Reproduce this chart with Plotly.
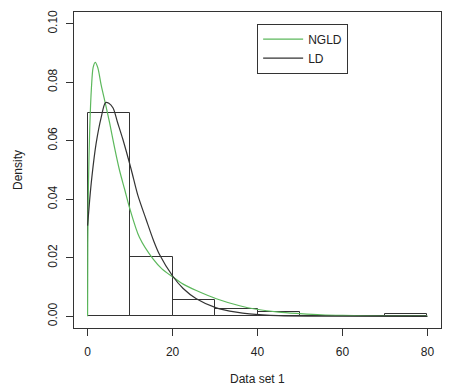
import plotly.graph_objects as go

# Histogram (density scale), bins of width 10
bin_left = [0, 10, 20, 30, 40, 50, 60, 70]
bin_width = 10
bin_density = [0.0695, 0.0203, 0.0055, 0.0024, 0.0014, 0.0, 0.0, 0.0009]

# NGLD fitted density
ngld_x = [0, 0.05, 0.2, 0.5, 0.9, 1.3, 1.8, 2.4, 3.2, 4.3, 5.2, 6.3, 7.5, 8.7, 9.9,
          12.2, 15.4, 17.5, 20.1, 22.5, 25.6, 30.3, 35.8, 39.7, 45, 50, 55, 60, 70, 80]
ngld_y = [0, 0.025, 0.045, 0.064, 0.078, 0.085, 0.0868, 0.085, 0.079, 0.072, 0.066, 0.058,
          0.050, 0.0435, 0.037, 0.027, 0.0196, 0.0162, 0.0134, 0.011, 0.0088, 0.006, 0.0036,
          0.0024, 0.0014, 0.0009, 0.0005, 0.0003, 0.0001, 0.00004]

# LD fitted density
ld_x = [0, 0.5, 1.0, 2.0, 3.2, 4.2, 5.0, 6.0, 7.0, 8.3, 10.3, 11.8, 13.8, 15.5, 16.9,
        20.1, 22.5, 25.6, 30.3, 35, 38.1, 45, 55, 80]
ld_y = [0.031, 0.040, 0.0475, 0.059, 0.068, 0.0730, 0.0728, 0.0712, 0.0665, 0.0605, 0.050,
        0.0415, 0.033, 0.026, 0.0212, 0.0136, 0.0095, 0.0060, 0.0029, 0.0014, 0.0008,
        0.0002, 0.00003, 0.0]

x_ticks = [0, 20, 40, 60, 80]
y_ticks = [0.00, 0.02, 0.04, 0.06, 0.08, 0.10]

FONT = "Liberation Sans, Arial, sans-serif"
GREEN = "#5cb85c"
INK = "#333333"

fig = go.Figure()
fig.add_trace(go.Bar(
    x=[b + bin_width / 2 for b in bin_left], y=bin_density, width=bin_width,
    marker=dict(color="rgba(255,255,255,0)", line=dict(color=INK, width=1)),
    showlegend=False, hoverinfo="skip"))
fig.add_trace(go.Scatter(x=ngld_x, y=ngld_y, mode="lines", name="NGLD",
                         line=dict(color=GREEN, width=1.2, shape="spline", smoothing=0.8)))
fig.add_trace(go.Scatter(x=ld_x, y=ld_y, mode="lines", name="LD",
                         line=dict(color=INK, width=1.2, shape="spline", smoothing=0.8)))

axis_common = dict(showgrid=False, zeroline=False, showline=True, mirror=True,
                   linecolor=INK, linewidth=1, ticks="outside", ticklen=7,
                   tickcolor=INK, tickfont=dict(family=FONT, size=12, color="#222"))

fig.update_layout(
    width=452, height=387,
    margin=dict(l=74, r=10, t=10, b=59),
    paper_bgcolor="white", plot_bgcolor="white",
    font=dict(family=FONT, size=12, color="#222"),
    bargap=0,
    xaxis=dict(range=[-3.2, 83.2], tickvals=x_ticks, ticklabelstandoff=6, **axis_common),
    yaxis=dict(range=[-0.004, 0.104], tickvals=y_ticks, tickformat=".2f",
               tickangle=-90, ticklabelstandoff=4, **axis_common),
    legend=dict(x=0.499, y=0.963, xanchor="left", yanchor="top",
                bgcolor="white", bordercolor=INK, borderwidth=1, itemwidth=40,
                font=dict(family=FONT, size=12, color="#222"), tracegroupgap=0),
    annotations=[
        dict(text="Data set 1", x=0.5, y=0, xref="paper", yref="paper",
             xanchor="center", yanchor="middle", yshift=-51, showarrow=False,
             font=dict(family=FONT, size=12, color="#222")),
        dict(text="Density", x=0, y=0.5, xref="paper", yref="paper",
             xanchor="center", yanchor="middle", xshift=-56, textangle=-90,
             showarrow=False, font=dict(family=FONT, size=12, color="#222")),
    ],
)

fig.write_html("out.html")
